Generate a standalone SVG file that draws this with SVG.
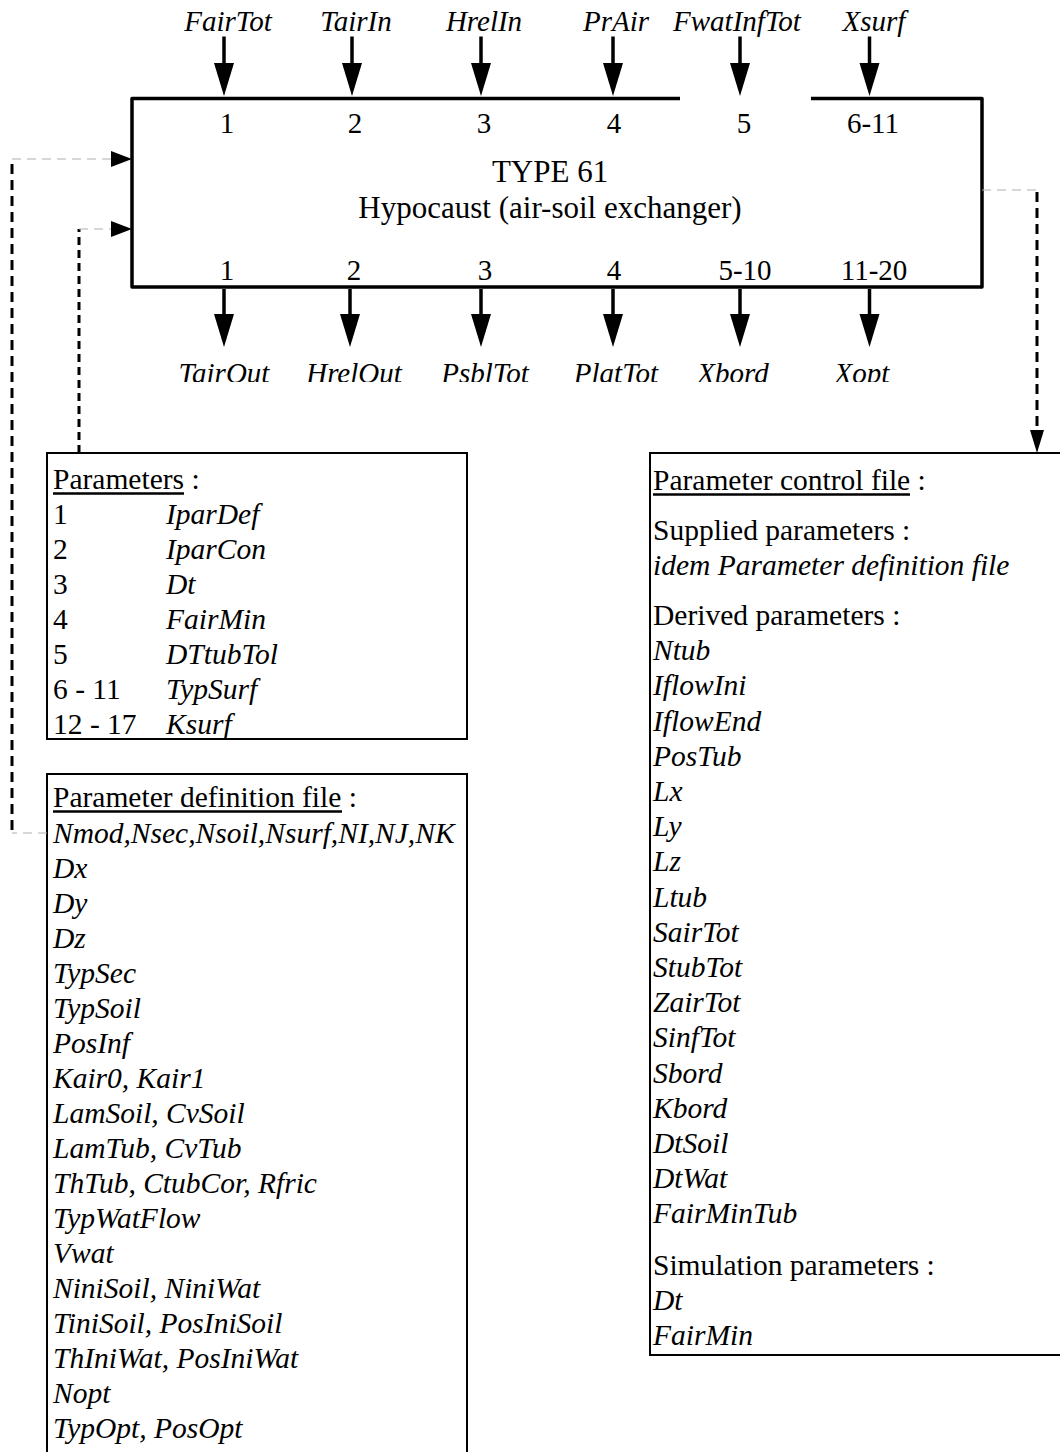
<svg xmlns="http://www.w3.org/2000/svg" width="1060" height="1452" viewBox="0 0 1060 1452">
<style>
text{font-family:"Liberation Serif","Times New Roman",serif;fill:#000}
.it{font-style:italic}
.io{font-size:29px;font-style:italic;text-anchor:middle}
.num{font-size:29px;text-anchor:middle}
.title{font-size:31px;text-anchor:middle}
.bt{font-size:29.5px}
.shaft{stroke:#000;stroke-width:3.5;fill:none}
.box{fill:none;stroke:#000;stroke-width:2}
.ul{stroke:#000;stroke-width:2.5}
.gray{stroke:#b0b0b0;stroke-width:1.2;stroke-dasharray:9,6;fill:none}
.dash1{stroke:#000;stroke-width:3;stroke-dasharray:10,6;fill:none}
.dash2{stroke:#000;stroke-width:3;stroke-dasharray:8,5;fill:none}
</style>
<defs>
<marker id="big" markerUnits="userSpaceOnUse" markerWidth="40" markerHeight="24" refX="2" refY="12" orient="auto" overflow="visible">
<path d="M0,2 L33,12 L0,22 Z" fill="#000"/>
</marker>
<marker id="side" markerUnits="userSpaceOnUse" markerWidth="24" markerHeight="18" refX="0" refY="9" orient="auto" overflow="visible">
<path d="M0,1 L21,9 L0,17 Z" fill="#000"/>
</marker>
<marker id="down" markerUnits="userSpaceOnUse" markerWidth="26" markerHeight="16" refX="0" refY="8" orient="auto" overflow="visible">
<path d="M0,1 L23,8 L0,15 Z" fill="#000"/>
</marker>
<clipPath id="cutBottom"><rect x="0" y="340" width="1060" height="42"/></clipPath>
</defs>

<g id="type61">
<path d="M680,98.6 L132,98.6 L132,287 L982,287 L982,98.6 L811,98.6" fill="none" stroke="#000" stroke-width="3.5" stroke-linejoin="round"/>
<text class="num" x="227" y="133">1</text>
<text class="num" x="355" y="133">2</text>
<text class="num" x="484" y="133">3</text>
<text class="num" x="614" y="133">4</text>
<text class="num" x="744" y="133">5</text>
<text class="num" x="873" y="133">6-11</text>
<text class="title" x="550" y="182">TYPE 61</text>
<text class="title" x="550" y="218">Hypocaust (air-soil exchanger)</text>
<text class="num" x="227" y="280">1</text>
<text class="num" x="354" y="280">2</text>
<text class="num" x="485" y="280">3</text>
<text class="num" x="614" y="280">4</text>
<text class="num" x="745" y="280">5-10</text>
<text class="num" x="874" y="280">11-20</text>
</g>

<g id="inputs">
<text class="io" x="228" y="31">FairTot</text>
<text class="io" x="356" y="31">TairIn</text>
<text class="io" x="484" y="31">HrelIn</text>
<text class="io" x="616" y="31">PrAir</text>
<text class="io" x="737" y="31">FwatInfTot</text>
<text class="io" x="874" y="31">Xsurf</text>
</g>

<g id="outputs" clip-path="url(#cutBottom)">
<text class="io" x="224" y="383">TairOut</text>
<text class="io" x="354" y="383">HrelOut</text>
<text class="io" x="485" y="383">PsblTot</text>
<text class="io" x="616" y="383">PlatTot</text>
<text class="io" x="733" y="383">Xbord</text>
<text class="io" x="862" y="383">Xopt</text>
</g>

<g id="parameters">
<rect class="box" x="47" y="453" width="420" height="286"/>
<text class="bt" x="53" y="489">Parameters :</text>
<line class="ul" x1="53" y1="493.5" x2="184" y2="493.5"/>
<text class="bt" x="53" y="524">1</text><text class="bt it" x="166" y="524">IparDef</text>
<text class="bt" x="53" y="559">2</text><text class="bt it" x="166" y="559">IparCon</text>
<text class="bt" x="53" y="594">3</text><text class="bt it" x="166" y="594">Dt</text>
<text class="bt" x="53" y="629">4</text><text class="bt it" x="166" y="629">FairMin</text>
<text class="bt" x="53" y="664">5</text><text class="bt it" x="166" y="664">DTtubTol</text>
<text class="bt" x="53" y="699">6 - 11</text><text class="bt it" x="166" y="699">TypSurf</text>
<text class="bt" x="53" y="734">12 - 17</text><text class="bt it" x="166" y="734">Ksurf</text>
</g>

<g id="definition-file">
<rect class="box" x="47" y="774" width="420" height="720"/>
<text class="bt" x="53" y="807">Parameter definition file :</text>
<line class="ul" x1="53" y1="811.5" x2="342" y2="811.5"/>
<text class="bt it" x="53" y="843">Nmod,Nsec,Nsoil,Nsurf,NI,NJ,NK</text>
<text class="bt it" x="53" y="878">Dx</text>
<text class="bt it" x="53" y="913">Dy</text>
<text class="bt it" x="53" y="948">Dz</text>
<text class="bt it" x="53" y="983">TypSec</text>
<text class="bt it" x="53" y="1018">TypSoil</text>
<text class="bt it" x="53" y="1053">PosInf</text>
<text class="bt it" x="53" y="1088">Kair0, Kair1</text>
<text class="bt it" x="53" y="1123">LamSoil, CvSoil</text>
<text class="bt it" x="53" y="1158">LamTub, CvTub</text>
<text class="bt it" x="53" y="1193">ThTub, CtubCor, Rfric</text>
<text class="bt it" x="53" y="1228">TypWatFlow</text>
<text class="bt it" x="53" y="1263">Vwat</text>
<text class="bt it" x="53" y="1298">NiniSoil, NiniWat</text>
<text class="bt it" x="53" y="1333">TiniSoil, PosIniSoil</text>
<text class="bt it" x="53" y="1368">ThIniWat, PosIniWat</text>
<text class="bt it" x="53" y="1403">Nopt</text>
<text class="bt it" x="53" y="1438">TypOpt, PosOpt</text>
</g>

<g id="control-file">
<rect class="box" x="650" y="453" width="430" height="902"/>
<text class="bt" x="653" y="490">Parameter control file :</text>
<line class="ul" x1="653" y1="494.5" x2="910" y2="494.5"/>
<text class="bt" x="653" y="540">Supplied parameters :</text>
<text class="bt it" x="653" y="575">idem Parameter definition file</text>
<text class="bt" x="653" y="625">Derived parameters :</text>
<text class="bt it" x="653" y="660">Ntub</text>
<text class="bt it" x="653" y="695">IflowIni</text>
<text class="bt it" x="653" y="730.5">IflowEnd</text>
<text class="bt it" x="653" y="765.5">PosTub</text>
<text class="bt it" x="653" y="801">Lx</text>
<text class="bt it" x="653" y="836">Ly</text>
<text class="bt it" x="653" y="871">Lz</text>
<text class="bt it" x="653" y="906.5">Ltub</text>
<text class="bt it" x="653" y="941.5">SairTot</text>
<text class="bt it" x="653" y="977">StubTot</text>
<text class="bt it" x="653" y="1012">ZairTot</text>
<text class="bt it" x="653" y="1047">SinfTot</text>
<text class="bt it" x="653" y="1082.5">Sbord</text>
<text class="bt it" x="653" y="1117.5">Kbord</text>
<text class="bt it" x="653" y="1153">DtSoil</text>
<text class="bt it" x="653" y="1188">DtWat</text>
<text class="bt it" x="653" y="1223">FairMinTub</text>
<text class="bt" x="653" y="1275">Simulation parameters :</text>
<text class="bt it" x="653" y="1310">Dt</text>
<text class="bt it" x="653" y="1345">FairMin</text>
</g>

<g id="connectors">
<line class="shaft" x1="224" y1="36.5" x2="224" y2="65" marker-end="url(#big)"/>
<line class="shaft" x1="352" y1="36.5" x2="352" y2="65" marker-end="url(#big)"/>
<line class="shaft" x1="481" y1="36.5" x2="481" y2="65" marker-end="url(#big)"/>
<line class="shaft" x1="613" y1="36.5" x2="613" y2="65" marker-end="url(#big)"/>
<line class="shaft" x1="740" y1="36.5" x2="740" y2="65" marker-end="url(#big)"/>
<line class="shaft" x1="869.5" y1="36.5" x2="869.5" y2="65" marker-end="url(#big)"/>
<line class="shaft" x1="224" y1="289" x2="224" y2="316" marker-end="url(#big)"/>
<line class="shaft" x1="350" y1="289" x2="350" y2="316" marker-end="url(#big)"/>
<line class="shaft" x1="481" y1="289" x2="481" y2="316" marker-end="url(#big)"/>
<line class="shaft" x1="613" y1="289" x2="613" y2="316" marker-end="url(#big)"/>
<line class="shaft" x1="740" y1="289" x2="740" y2="316" marker-end="url(#big)"/>
<line class="shaft" x1="869.5" y1="289" x2="869.5" y2="316" marker-end="url(#big)"/>

<line class="gray" x1="47" y1="833" x2="12" y2="833"/>
<line class="dash1" x1="12" y1="830" x2="12" y2="159"/>
<line class="gray" x1="12" y1="159" x2="111" y2="159" marker-end="url(#side)"/>

<line class="dash2" x1="79" y1="453" x2="79" y2="229"/>
<line class="gray" x1="79" y1="229" x2="111" y2="229" marker-end="url(#side)"/>

<line class="gray" x1="982" y1="190" x2="1037" y2="190"/>
<line class="dash1" x1="1037" y1="192" x2="1037" y2="430" marker-end="url(#down)"/>
</g>
</svg>
